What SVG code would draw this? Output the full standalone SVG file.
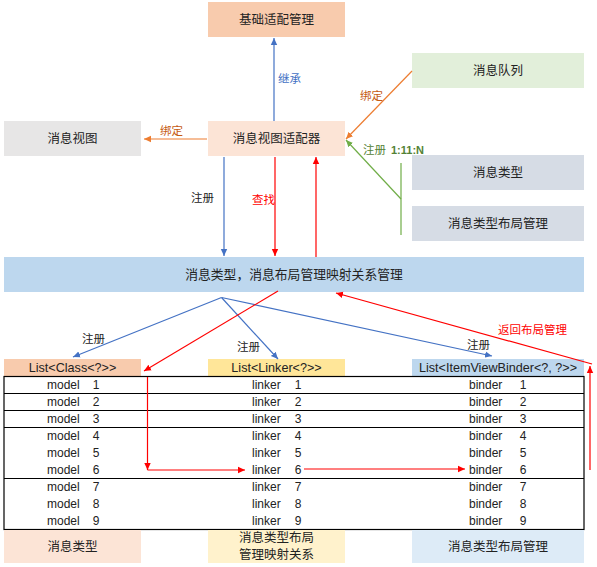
<svg xmlns="http://www.w3.org/2000/svg" width="597" height="567" viewBox="0 0 597 567">
<defs>
<style>
text{font-family:"Liberation Sans","Noto Sans CJK SC",sans-serif;fill:#222;}
.b{font-size:12.5px;text-anchor:middle;dominant-baseline:central;}
.l{font-size:11.5px;dominant-baseline:central;}
.t{font-size:12px;dominant-baseline:central;}
.h{font-size:12.6px;text-anchor:middle;dominant-baseline:central;}
.c{text-anchor:middle;}
.blue{stroke:#4472c4;stroke-width:1.2;fill:none;}
.red{stroke:#ff0000;stroke-width:1.2;fill:none;}
.orange{stroke:#ed7d31;stroke-width:1.2;fill:none;}
.green{stroke:#70ad47;stroke-width:1.2;fill:none;}
.grid{stroke:#000;stroke-width:1.2;fill:none;}
</style>
<marker id="ab" markerWidth="8" markerHeight="8" refX="7" refY="4" orient="auto" markerUnits="userSpaceOnUse"><path d="M0,0.8 L7,4 L0,7.2 Z" fill="#4472c4"/></marker>
<marker id="ar" markerWidth="8" markerHeight="8" refX="7" refY="4" orient="auto" markerUnits="userSpaceOnUse"><path d="M0,0.8 L7,4 L0,7.2 Z" fill="#ff0000"/></marker>
<marker id="ao" markerWidth="8" markerHeight="8" refX="7" refY="4" orient="auto" markerUnits="userSpaceOnUse"><path d="M0,0.8 L7,4 L0,7.2 Z" fill="#ed7d31"/></marker>
<marker id="ag" markerWidth="8" markerHeight="8" refX="7" refY="4" orient="auto" markerUnits="userSpaceOnUse"><path d="M0,0.8 L7,4 L0,7.2 Z" fill="#70ad47"/></marker>
</defs>
<rect width="597" height="567" fill="#fff"/>

<g id="base-adapter"><rect x="208" y="2" width="137" height="35" fill="#f8cbad"/><text class="b" x="276.5" y="19.5">基础适配管理</text></g>
<g id="view-adapter"><rect x="208" y="121" width="137" height="35" fill="#fce4d6"/><text class="b" x="276.5" y="138.5">消息视图适配器</text></g>
<g id="message-view"><rect x="4" y="121" width="137" height="35" fill="#e7e6e6"/><text class="b" x="72.5" y="138.5">消息视图</text></g>
<g id="message-queue"><rect x="412" y="53" width="172" height="35" fill="#e2efda"/><text class="b" x="498" y="70.5">消息队列</text></g>
<g id="message-type"><rect x="412" y="155" width="172" height="35" fill="#d6dce5"/><text class="b" x="498" y="172.5">消息类型</text></g>
<g id="layout-manager"><rect x="412" y="206" width="172" height="35" fill="#d6dce5"/><text class="b" x="498" y="223.5">消息类型布局管理</text></g>
<g id="mapping-bar"><rect x="4" y="257" width="580" height="35" fill="#bdd7ee"/><text class="b" x="294" y="274.5" style="font-size:12.8px">消息类型，消息布局管理映射关系管理</text></g>

<g id="header-class"><rect x="4" y="359" width="137" height="17" fill="#f8cbad"/><text class="h" x="72.5" y="367.5">List&lt;Class&lt;?&gt;&gt;</text></g>
<g id="header-linker"><rect x="208" y="359" width="137" height="17" fill="#ffe699"/><text class="h" x="276.5" y="367.5">List&lt;Linker&lt;?&gt;&gt;</text></g>
<g id="header-binder"><rect x="412" y="359" width="172" height="17" fill="#bdd7ee"/><text class="h" x="498" y="367.5">List&lt;ItemViewBinder&lt;?, ?&gt;&gt;</text></g>

<g id="table">
<rect class="grid" x="4" y="376.5" width="580" height="153"/>
<line class="grid" x1="4" y1="393.5" x2="584" y2="393.5"/>
<line class="grid" x1="4" y1="410.5" x2="584" y2="410.5"/>
<line class="grid" x1="4" y1="427.5" x2="584" y2="427.5"/>
<line class="grid" x1="4" y1="478.5" x2="584" y2="478.5"/>
<g class="t">
<text x="47" y="385">model</text><text class="c" x="96" y="385">1</text><text x="252" y="385">linker</text><text class="c" x="298" y="385">1</text><text x="469" y="385">binder</text><text class="c" x="523" y="385">1</text>
<text x="47" y="402">model</text><text class="c" x="96" y="402">2</text><text x="252" y="402">linker</text><text class="c" x="298" y="402">2</text><text x="469" y="402">binder</text><text class="c" x="523" y="402">2</text>
<text x="47" y="419">model</text><text class="c" x="96" y="419">3</text><text x="252" y="419">linker</text><text class="c" x="298" y="419">3</text><text x="469" y="419">binder</text><text class="c" x="523" y="419">3</text>
<text x="47" y="436">model</text><text class="c" x="96" y="436">4</text><text x="252" y="436">linker</text><text class="c" x="298" y="436">4</text><text x="469" y="436">binder</text><text class="c" x="523" y="436">4</text>
<text x="47" y="453">model</text><text class="c" x="96" y="453">5</text><text x="252" y="453">linker</text><text class="c" x="298" y="453">5</text><text x="469" y="453">binder</text><text class="c" x="523" y="453">5</text>
<text x="47" y="470">model</text><text class="c" x="96" y="470">6</text><text x="252" y="470">linker</text><text class="c" x="298" y="470">6</text><text x="469" y="470">binder</text><text class="c" x="523" y="470">6</text>
<text x="47" y="487">model</text><text class="c" x="96" y="487">7</text><text x="252" y="487">linker</text><text class="c" x="298" y="487">7</text><text x="469" y="487">binder</text><text class="c" x="523" y="487">7</text>
<text x="47" y="504">model</text><text class="c" x="96" y="504">8</text><text x="252" y="504">linker</text><text class="c" x="298" y="504">8</text><text x="469" y="504">binder</text><text class="c" x="523" y="504">8</text>
<text x="47" y="521">model</text><text class="c" x="96" y="521">9</text><text x="252" y="521">linker</text><text class="c" x="298" y="521">9</text><text x="469" y="521">binder</text><text class="c" x="523" y="521">9</text>
</g>
</g>

<g id="footer-type"><rect x="4" y="530" width="137" height="33" fill="#fce4d6"/><text class="b" x="72.5" y="546.5">消息类型</text></g>
<g id="footer-mapping"><rect x="208" y="530" width="137" height="33" fill="#fff2cc"/><text class="b" x="276.5" y="538">消息类型布局</text><text class="b" x="276.5" y="555">管理映射关系</text></g>
<g id="footer-layout"><rect x="412" y="530" width="172" height="33" fill="#ddebf7"/><text class="b" x="498" y="546.5">消息类型布局管理</text></g>

<g id="connectors">
<line class="blue" x1="274" y1="121" x2="274" y2="38" marker-end="url(#ab)"/>
<text class="l" x="278" y="79" style="fill:#4472c4">继承</text>
<line class="orange" x1="207" y1="139" x2="144" y2="139" marker-end="url(#ao)"/>
<text class="l" x="160" y="131" style="fill:#c55a11">绑定</text>
<line class="orange" x1="412" y1="71" x2="346" y2="139" marker-end="url(#ao)"/>
<text class="l" x="360" y="96" style="fill:#c55a11">绑定</text>
<polyline class="green" points="401,163 401,235"/>
<line class="green" x1="401" y1="199" x2="346" y2="140" marker-end="url(#ag)"/>
<text class="l" x="363" y="150" style="fill:#548235">注册 <tspan x="391" font-size="11px" font-weight="bold">1:11:N</tspan></text>
<line class="blue" x1="224" y1="157" x2="224" y2="256" marker-end="url(#ab)"/>
<text class="l" x="191" y="198">注册</text>
<line class="red" x1="275" y1="157" x2="275" y2="256" marker-end="url(#ar)"/>
<text class="l" x="252" y="200" style="fill:#ff0000">查找</text>
<line class="red" x1="316" y1="257" x2="316" y2="157" marker-end="url(#ar)"/>

<line class="blue" x1="221.5" y1="297.5" x2="73" y2="357" marker-end="url(#ab)"/>
<text class="l" x="82" y="339">注册</text>
<line class="blue" x1="221.5" y1="297.5" x2="278" y2="359" marker-end="url(#ab)"/>
<text class="l" x="237" y="347">注册</text>
<line class="blue" x1="221.5" y1="297.5" x2="492" y2="356" marker-end="url(#ab)"/>
<text class="l" x="467" y="345">注册</text>

<line class="red" x1="278" y1="291" x2="144" y2="371" marker-end="url(#ar)"/>
<line class="red" x1="147.5" y1="377" x2="147.5" y2="470" marker-end="url(#ar)"/>
<line class="red" x1="147.5" y1="470" x2="245" y2="470" marker-end="url(#ar)"/>
<line class="red" x1="304" y1="469" x2="465" y2="469" marker-end="url(#ar)"/>
<line class="red" x1="590" y1="470" x2="590" y2="366" marker-end="url(#ar)"/>
<line class="red" x1="592" y1="364" x2="336" y2="293" marker-end="url(#ar)"/>
<text class="l" x="498" y="330" style="fill:#ff0000">返回布局管理</text>
</g>
</svg>
